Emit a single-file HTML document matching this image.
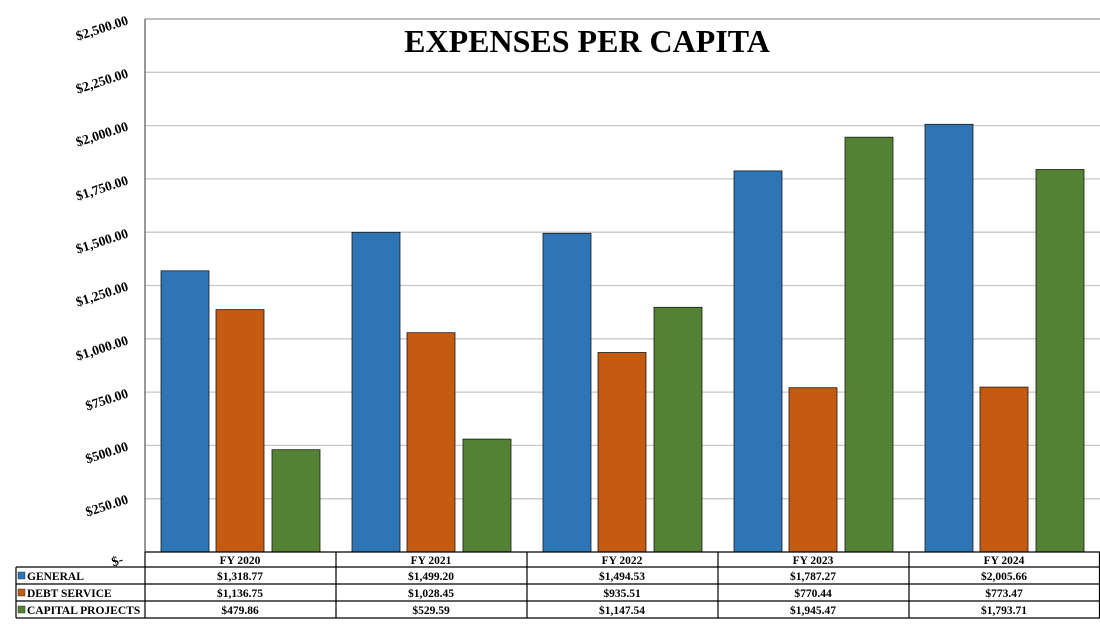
<!DOCTYPE html>
<html><head><meta charset="utf-8"><style>
body{margin:0;background:#fff;}
text{font-family:"Liberation Serif",serif;font-weight:bold;fill:#000;}
</style></head><body>
<svg width="1100" height="619" xmlns="http://www.w3.org/2000/svg">
<g stroke="#c8c8c8" stroke-width="1.3">
<line x1="145" x2="1100" y1="72.3" y2="72.3"/>
<line x1="145" x2="1100" y1="125.6" y2="125.6"/>
<line x1="145" x2="1100" y1="178.9" y2="178.9"/>
<line x1="145" x2="1100" y1="232.2" y2="232.2"/>
<line x1="145" x2="1100" y1="285.5" y2="285.5"/>
<line x1="145" x2="1100" y1="338.8" y2="338.8"/>
<line x1="145" x2="1100" y1="392.1" y2="392.1"/>
<line x1="145" x2="1100" y1="445.4" y2="445.4"/>
<line x1="145" x2="1100" y1="498.7" y2="498.7"/>
</g>
<line x1="145" x2="1100" y1="19" y2="19" stroke="#777" stroke-width="1"/>
<line x1="145" x2="145" y1="19" y2="552" stroke="#555" stroke-width="1.2"/>
<text x="587" y="52" font-size="32" text-anchor="middle">EXPENSES PER CAPITA</text>
<g font-size="13.5" text-anchor="end">
<text transform="translate(129,24) rotate(-18)">$2,500.00</text>
<text transform="translate(129,77) rotate(-18)">$2,250.00</text>
<text transform="translate(129,130) rotate(-18)">$2,000.00</text>
<text transform="translate(129,184) rotate(-18)">$1,750.00</text>
<text transform="translate(129,237) rotate(-18)">$1,500.00</text>
<text transform="translate(129,290) rotate(-18)">$1,250.00</text>
<text transform="translate(129,344) rotate(-18)">$1,000.00</text>
<text transform="translate(129,397) rotate(-18)">$750.00</text>
<text transform="translate(129,450) rotate(-18)">$500.00</text>
<text transform="translate(129,503) rotate(-18)">$250.00</text>
<text transform="translate(124,563) rotate(-18)">$-</text>
</g>
<g stroke="#1a1a1a" stroke-width="0.8">
<rect x="161" y="270.8" width="48" height="281.2" fill="#2e75b6"/>
<rect x="216" y="309.6" width="48" height="242.4" fill="#c55a11"/>
<rect x="272" y="449.7" width="48" height="102.3" fill="#548235"/>
<rect x="352" y="232.3" width="48" height="319.7" fill="#2e75b6"/>
<rect x="407" y="332.7" width="48" height="219.3" fill="#c55a11"/>
<rect x="463" y="439.1" width="48" height="112.9" fill="#548235"/>
<rect x="543" y="233.3" width="48" height="318.7" fill="#2e75b6"/>
<rect x="598" y="352.5" width="48" height="199.5" fill="#c55a11"/>
<rect x="654" y="307.3" width="48" height="244.7" fill="#548235"/>
<rect x="734" y="170.9" width="48" height="381.1" fill="#2e75b6"/>
<rect x="789" y="387.7" width="48" height="164.3" fill="#c55a11"/>
<rect x="845" y="137.2" width="48" height="414.8" fill="#548235"/>
<rect x="925" y="124.3" width="48" height="427.7" fill="#2e75b6"/>
<rect x="980" y="387.1" width="48" height="164.9" fill="#c55a11"/>
<rect x="1036" y="169.5" width="48" height="382.5" fill="#548235"/>
</g>
<g stroke="#000" stroke-width="1.2" fill="none">
<line x1="145" x2="1100" y1="552" y2="552"/>
<line x1="16" x2="1100" y1="567" y2="567"/>
<line x1="16" x2="1100" y1="584" y2="584"/>
<line x1="16" x2="1100" y1="601" y2="601"/>
<line x1="16" x2="1100" y1="618" y2="618"/>
<line x1="16" x2="16" y1="567" y2="618"/>
<line x1="145" x2="145" y1="552" y2="618"/>
<line x1="336" x2="336" y1="552" y2="618"/>
<line x1="527" x2="527" y1="552" y2="618"/>
<line x1="718" x2="718" y1="552" y2="618"/>
<line x1="909" x2="909" y1="552" y2="618"/>
<line x1="1099.5" x2="1099.5" y1="552" y2="618"/>
</g>
<rect x="18" y="572" width="7" height="7" fill="#2e75b6" stroke="#333" stroke-width="0.5"/>
<rect x="18" y="589" width="7" height="7" fill="#c55a11" stroke="#333" stroke-width="0.5"/>
<rect x="18" y="606" width="7" height="7" fill="#548235" stroke="#333" stroke-width="0.5"/>
<g font-size="11.5">
<text x="27" y="580">GENERAL</text>
<text x="27" y="597">DEBT SERVICE</text>
<text x="27" y="614">CAPITAL PROJECTS</text>
</g>
<g font-size="11.5" text-anchor="middle">
<text x="240" y="564">FY 2020</text><text x="431" y="564">FY 2021</text><text x="622" y="564">FY 2022</text><text x="813" y="564">FY 2023</text><text x="1004" y="564">FY 2024</text>
<text x="240" y="580">$1,318.77</text><text x="431" y="580">$1,499.20</text><text x="622" y="580">$1,494.53</text><text x="813" y="580">$1,787.27</text><text x="1004" y="580">$2,005.66</text>
<text x="240" y="597">$1,136.75</text><text x="431" y="597">$1,028.45</text><text x="622" y="597">$935.51</text><text x="813" y="597">$770.44</text><text x="1004" y="597">$773.47</text>
<text x="240" y="614">$479.86</text><text x="431" y="614">$529.59</text><text x="622" y="614">$1,147.54</text><text x="813" y="614">$1,945.47</text><text x="1004" y="614">$1,793.71</text>
</g>
</svg>
</body></html>
